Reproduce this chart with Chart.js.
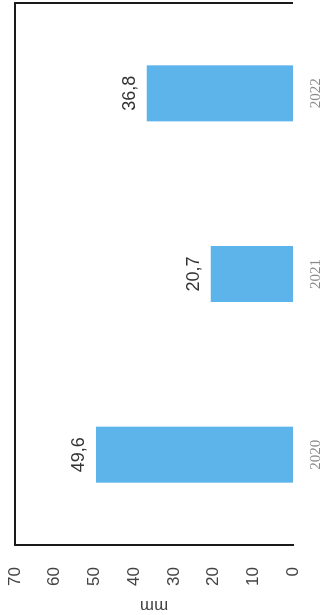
<!DOCTYPE html>
<html>
<head>
<meta charset="utf-8">
<script src="https://cdn.jsdelivr.net/npm/chart.js@4.4.0/dist/chart.umd.min.js"></script>
<style>
html, body { margin: 0; padding: 0; background: #fff; overflow: hidden; }
/* the chart is a normal column chart turned a quarter turn to the left */
#wrap {
    position: absolute; left: 0; top: 0;
    width: 615px; height: 327px;
    transform-origin: 0 0;
    transform: translate(0, 615px) rotate(-90deg);
}
</style>
</head>
<body>
<div id="wrap"><canvas id="js-chartjs-bars" width="615" height="327"></canvas></div>
<script>
const years = ["2020", "2021", "2022"];
const rainfall = [49.6, 20.7, 36.8];
const tickValues = [0, 10, 20, 30, 40, 50, 60, 70];
const unitLabel = "mm";

// top + right edge of the plot frame
const frameLines = {
    id: "frameLines",
    afterDraw(chart) {
        const { ctx, chartArea: a } = chart;
        ctx.save();
        ctx.strokeStyle = "#1a1a1a";
        ctx.lineWidth = 2;
        ctx.beginPath();
        ctx.moveTo(a.left, a.top);
        ctx.lineTo(a.right, a.top);
        ctx.lineTo(a.right, a.bottom);
        ctx.stroke();
        ctx.restore();
    }
};

// value above each column, decimal comma
const valueLabels = {
    id: "valueLabels",
    afterDatasetsDraw(chart) {
        const ctx = chart.ctx;
        ctx.save();
        ctx.font = "18px 'Liberation Sans', sans-serif";
        ctx.fillStyle = "#333";
        ctx.textAlign = "center";
        ctx.textBaseline = "alphabetic";
        chart.getDatasetMeta(0).data.forEach((bar, i) => {
            ctx.fillText(String(rainfall[i]).replace(".", ","), bar.x, bar.y - 12);
        });
        ctx.restore();
    }
};

new Chart(document.getElementById("js-chartjs-bars"), {
    type: "bar",
    data: {
        labels: years,
        datasets: [{
            data: rainfall,
            backgroundColor: "#5cb4ea",
            borderWidth: 0,
            barPercentage: 0.31,
            categoryPercentage: 1
        }]
    },
    options: {
        responsive: false,
        animation: false,
        layout: { padding: { top: 15, right: 3, left: 0, bottom: 0 } },
        plugins: { legend: { display: false }, tooltip: { enabled: false } },
        scales: {
            x: {
                grid: { display: false, drawTicks: false },
                border: { display: false },
                ticks: {
                    padding: 14,
                    color: "#8a8a8a",
                    font: { family: "'Liberation Serif', serif", size: 15 }
                },
                afterFit(s) { s.height = 34; s.paddingLeft = 0; s.paddingRight = 0; }
            },
            y: {
                min: 0,
                max: 70,
                grid: { display: false, drawTicks: false },
                border: { display: true, color: "#1a1a1a", width: 2 },
                afterBuildTicks(s) { s.ticks = tickValues.map(v => ({ value: v })); },
                ticks: {
                    padding: 22,
                    color: "#444",
                    font: { family: "'Liberation Sans', sans-serif", size: 17 }
                },
                title: {
                    display: true,
                    text: unitLabel,
                    color: "#444",
                    padding: { top: 0, bottom: 0 },
                    font: { family: "'Liberation Sans', sans-serif", size: 17, lineHeight: 1.1 }
                },
                afterFit(s) { s.width = 70; s.paddingTop = 0; s.paddingBottom = 0; }
            }
        }
    },
    plugins: [frameLines, valueLabels]
});
</script>
</body>
</html>
